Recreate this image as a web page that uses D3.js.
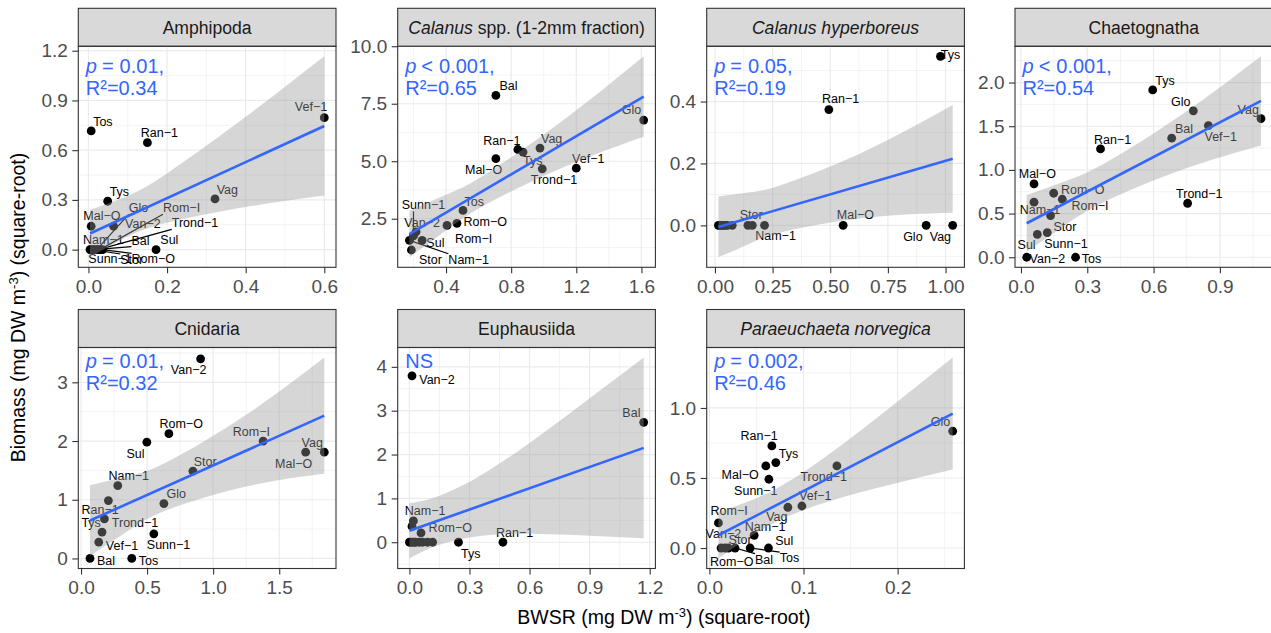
<!DOCTYPE html>
<html>
<head>
<meta charset="utf-8">
<script src="https://cdn.jsdelivr.net/npm/d3@7"></script>
<style>
  body { margin: 0; background: #fff; }
  svg { display: block; }
  text { white-space: pre; }
</style>
</head>
<body>
<svg id="chart" width="1271" height="633"></svg>
<script>
const FONT = '"Liberation Sans", Arial, Helvetica, sans-serif';

// sampling sites, same order in every series below
const sites = ['Bal', 'Glo', 'Mal-O', 'Nam-1', 'Ran-1', 'Rom-I', 'Rom-O', 'Stor',
               'Sul', 'Sunn-1', 'Trond-1', 'Tos', 'Tys', 'Van-2', 'Vag', 'Vef-1'];

// BWSR (x) and biomass (y), square-root scale, one pair per taxon
const amphipodaX = [0.016, 0.021, 0.007, 0.004, 0.15, 0.029, 0.036, 0.011, 0.172, 0.006, 0.025, 0.007, 0.049, 0.064, 0.322, 0.6];
const amphipodaY = [0, 0, 0.141, 0, 0.645, 0, 0, 0, 0, 0, 0, 0.716, 0.292, 0.141, 0.306, 0.796];
const calanusX   = [0.706, 1.614, 0.706, 0.175, 0.841, 0.406, 0.467, 0.187, 0.253, 0.20, 0.991, 0.504, 0.873, 0.216, 0.977, 1.20];
const calanusY   = [7.86, 6.79, 5.11, 1.56, 5.51, 2.21, 2.30, 1.14, 1.56, 1.75, 4.67, 2.86, 5.40, 1.93, 5.57, 4.70];
const hyperX     = [0.015, 0.916, 0.556, 0.215, 0.494, 0.025, 0.039, 0.143, 0.162, 0.054, 0.075, 0.02, 0.978, 0.03, 1.031, 0.045];
const hyperY     = [0, 0, 0, 0, 0.374, 0, 0, 0, 0, 0, 0, 0, 0.546, 0, 0, 0];
const chaetoX    = [0.682, 0.78, 0.059, 0.059, 0.36, 0.187, 0.148, 0.134, 0.074, 0.119, 0.754, 0.247, 0.596, 0.026, 1.086, 0.848];
const chaetoY    = [1.363, 1.676, 0.84, 0.63, 1.24, 0.664, 0.733, 0.477, 0.263, 0.282, 0.618, 0, 1.916, 0, 1.588, 1.508];
const cnidariaX  = [0.068, 0.627, 1.70, 0.278, 0.207, 1.378, 0.665, 0.847, 0.498, 0.551, 0.159, 0.384, 0.177, 0.905, 1.841, 0.134];
const cnidariaY  = [0, 0.935, 1.81, 1.241, 0.986, 2.0, 2.126, 1.486, 1.98, 0.42, 0.449, 0, 0.675, 3.40, 1.81, 0.279];
const euphX      = [1.17, 0.013, 0, 0.02, 0.467, 0.008, 0.058, 0.017, 0.033, 0.05, 0.091, 0.066, 0.245, 0.013, 0.116, 0.025];
const euphY      = [2.734, 0.36, 0, 0.485, 0, 0, 0.212, 0, 0, 0, 0, 0, 0, 3.795, 0, 0];
const paraX      = [0.0273, 0.2585, 0.06, 0.0476, 0.0664, 0.0096, 0.0124, 0.0202, 0.0628, 0.0632, 0.1355, 0.0433, 0.0706, 0.0167, 0.0834, 0.0983];
const paraY      = [0, 0.834, 0.586, 0.091, 0.729, 0.179, 0, 0, 0, 0.491, 0.586, 0, 0.61, 0, 0.291, 0.30];

// fitted line ends [x0, x1], [y0, y1]
const fitX = [[0.004, 0.6], [0.175, 1.614], [0.015, 1.031], [0.026, 1.086], [0.068, 1.841], [0, 1.17], [0.0096, 0.2585]];
const fitY = [[0.097, 0.746], [1.835, 7.81], [-0.005, 0.215], [0.389, 1.79], [0.646, 2.432], [0.26, 2.152], [0.091, 0.96]];

// confidence band read at five x positions
const bandX  = [[0.004, 0.0945, 0.2, 0.4, 0.6], [0.175, 0.41, 0.645, 1.13, 1.614], [0.015, 0.15, 0.297, 0.65, 1.031],
                [0.026, 0.2, 0.385, 0.735, 1.086], [0.068, 0.36, 0.651, 1.25, 1.841], [0, 0.15, 0.4, 0.75, 1.17],
                [0.0096, 0.0676, 0.13, 0.195, 0.2585]];
const bandLo = [[-0.046, 0.073, 0.162, 0.257, 0.326], [0.825, 2.04, 3.12, 4.76, 6.06], [-0.103, -0.059, -0.021, 0.0245, 0.041],
                [0.066, 0.367, 0.643, 1.007, 1.28], [0.044, 0.475, 0.824, 1.225, 1.442], [-0.37, -0.056, 0.166, 0.179, 0.092],
                [-0.0745, 0.1755, 0.339, 0.457, 0.56]];
const bandHi = [[0.240, 0.319, 0.460, 0.801, 1.166], [2.845, 3.58, 4.45, 6.84, 9.56], [0.093, 0.107, 0.133, 0.2395, 0.389],
                [0.712, 0.871, 1.085, 1.645, 2.30], [1.248, 1.405, 1.642, 2.447, 3.422], [0.89, 1.062, 1.648, 2.767, 4.212],
                [0.2565, 0.4115, 0.683, 1.019, 1.36]];

// strip titles as [text, italic] pieces
const titles = [
  [['Amphipoda', false]],
  [['Calanus', true], [' spp. (1-2mm fraction)', false]],
  [['Calanus hyperboreus', true]],
  [['Chaetognatha', false]],
  [['Cnidaria', false]],
  [['Euphausiida', false]],
  [['Paraeuchaeta norvegica', true]]
];
const statOp = ['=', '<', '=', '<', '=', null, '='];
const statP  = ['0.01,', '0.001,', '0.05,', '0.001,', '0.01,', null, '0.002,'];
const statR2 = ['0.34', '0.65', '0.19', '0.54', '0.32', null, '0.46'];

// tick labels
const xTicks = [[0, 0.2, 0.4, 0.6], [0.4, 0.8, 1.2, 1.6], [0, 0.25, 0.5, 0.75, 1.0], [0, 0.3, 0.6, 0.9],
                [0, 0.5, 1.0, 1.5], [0, 0.3, 0.6, 0.9, 1.2], [0, 0.1, 0.2]];
const yTicks = [[0, 0.3, 0.6, 0.9, 1.2], [2.5, 5.0, 7.5, 10.0], [0, 0.2, 0.4], [0, 0.5, 1.0, 1.5, 2.0],
                [0, 1, 2, 3], [0, 1, 2, 3, 4], [0, 0.5, 1.0]];
const xFmt = ['.1f', '.1f', '.2f', '.1f', '.1f', '.1f', '.1f'];
const yFmt = ['.1f', '.1f', '.1f', '.1f', 'd', 'd', '.1f'];

// label placement (px offset from the point, like ggrepel left them)
const nudges = [
  { 'Tos': [11.7, -9], 'Ran-1': [12, -10], 'Vef-1': [-13.3, -11], 'Tys': [11.7, -9.3], 'Vag': [12.3, -9.3],
    'Mal-O': [10.7, -10.3], 'Van-2': [29.3, -2.7], 'Glo': [41.7, -41.7], 'Rom-I': [81.7, -41.7],
    'Trond-1': [96.7, -26.7], 'Nam-1': [13.3, -10], 'Bal': [45.7, -9.3], 'Sul': [13.3, -10],
    'Sunn-1': [19.3, 9.3], 'Stor': [39, 10], 'Rom-O': [50.7, 9.3] },
  { 'Bal': [12.7, -10], 'Glo': [-12.3, -10], 'Ran-1': [-16, -9.3], 'Vag': [11.7, -9.7], 'Tys': [9.7, 9],
    'Mal-O': [-12.3, 10.7], 'Vef-1': [12, -9.7], 'Trond-1': [11.7, 11.3], 'Tos': [11.3, -9.3],
    'Rom-O': [28.3, -1.3], 'Rom-I': [26.7, 13], 'Sunn-1': [10, -31], 'Van-2': [6, -9], 'Sul': [13.3, 2.3],
    'Stor': [19, 9.3], 'Nam-1': [59.3, 19] },
  { 'Tys': [10, -1.7], 'Ran-1': [11.7, -10.7], 'Mal-O': [12.3, -11], 'Glo': [-13.3, 11.3], 'Vag': [-12.3, 11.3],
    'Stor': [3.3, -11], 'Nam-1': [11, 10.7] },
  { 'Tys': [12.3, -9.3], 'Glo': [-12.7, -9.3], 'Vag': [-12.7, -9.3], 'Vef-1': [12.3, 11], 'Bal': [12.3, -10],
    'Ran-1': [12, -9.7], 'Trond-1': [11.7, -10], 'Mal-O': [3.3, -10.7], 'Rom-O': [29, -4], 'Rom-I': [27.7, 6.3],
    'Nam-1': [6, 7.7], 'Stor': [14.3, 11], 'Sunn-1': [18.7, 10.7], 'Sul': [-10.7, 10.7], 'Van-2': [20.7, 1.7],
    'Tos': [16, 1.7] },
  { 'Van-2': [-12, 10.7], 'Rom-O': [12.3, -9.7], 'Sul': [-11.3, 11], 'Rom-I': [-11.7, -9.3], 'Vag': [-12, -9.7],
    'Mal-O': [-12, 11], 'Stor': [12.3, -9.7], 'Nam-1': [11, -9.7], 'Glo': [12.3, -9.7], 'Ran-1': [-8.3, 8.7],
    'Tys': [-13.3, 3.7], 'Trond-1': [33, -9], 'Vef-1': [23.3, 3.7], 'Sunn-1': [14.7, 11], 'Bal': [16, 2.3],
    'Tos': [16.7, 2.3] },
  { 'Van-2': [25, 4], 'Bal': [-12.3, -10], 'Nam-1': [11.7, -10], 'Rom-O': [29.3, -5], 'Tys': [12.3, 11.3],
    'Ran-1': [11.7, -9.7] },
  { 'Glo': [-12.3, -9.3], 'Trond-1': [-13.3, 11], 'Ran-1': [-12.7, -10.7], 'Tys': [12.7, -9], 'Mal-O': [-25.7, 8.3],
    'Sunn-1': [-13, 11.7], 'Vef-1': [13.3, -10], 'Vag': [-11, 9.7], 'Rom-I': [10.7, -12.7], 'Nam-1': [11, -9],
    'Sul': [15.7, -7], 'Bal': [29, 11.3], 'Tos': [39.3, 9.7], 'Rom-O': [10.7, 14], 'Stor': [11.7, -8.3],
    'Van-2': [-1.7, -14.3] }
];

const seriesX = [amphipodaX, calanusX, hyperX, chaetoX, cnidariaX, euphX, paraX];
const seriesY = [amphipodaY, calanusY, hyperY, chaetoY, cnidariaY, euphY, paraY];

// layout
const COL_X = [78.3, 397.7, 706.7, 1015];
const STRIP_TOP = [8.3, 309.5];
const STRIP_H = 38;
const PW = 257.7, PH = 221;
const STAT_Y = [27, 20];

const svg = d3.select('#chart').attr('font-family', FONT);

seriesX.forEach((xs, i) => drawPanel(i));
drawTitles();

function minorBreaks(ticks, dom) {
  const step = ticks[1] - ticks[0];
  const out = [];
  for (let k = -1; k < ticks.length; k++) {
    const v = ticks[0] + step * (k + 0.5);
    if (v > dom[0] && v < dom[1]) out.push(v);
  }
  return out;
}

function styleAxis(sel) {
  sel.attr('font-family', FONT).attr('font-size', 19);
  sel.select('.domain').remove();
  sel.selectAll('.tick line').attr('stroke', '#333').attr('stroke-width', 1.1);
  sel.selectAll('.tick text').attr('fill', '#4d4d4d');
}

function drawPanel(i) {
  const col = i % 4, row = Math.floor(i / 4);
  const pts = sites.map((s, k) => ({ site: s, x: seriesX[i][k], y: seriesY[i][k] }));
  const band = bandX[i].map((v, k) => ({ x: v, lo: bandLo[i][k], hi: bandHi[i][k] }));

  const g = svg.append('g')
    .attr('transform', `translate(${COL_X[col]},${STRIP_TOP[row] + STRIP_H})`);

  // ggplot-style 5% expansion of data + ribbon
  const xe = d3.extent(seriesX[i]);
  const ye = d3.extent(seriesY[i].concat(bandLo[i], bandHi[i]));
  const xp = (xe[1] - xe[0]) * 0.05, yp = (ye[1] - ye[0]) * 0.05;
  const x = d3.scaleLinear().domain([xe[0] - xp, xe[1] + xp]).range([0, PW]);
  const y = d3.scaleLinear().domain([ye[0] - yp, ye[1] + yp]).range([PH, 0]);

  // strip
  const strip = g.append('g').attr('transform', `translate(0,${-STRIP_H})`);
  strip.append('rect')
    .attr('width', PW).attr('height', STRIP_H)
    .attr('fill', '#d9d9d9').attr('stroke', '#333').attr('stroke-width', 1.1);
  const st = strip.append('text')
    .attr('x', PW / 2).attr('y', STRIP_H / 2).attr('dy', '0.36em')
    .attr('text-anchor', 'middle').attr('font-size', 17.6).attr('fill', '#1a1a1a');
  titles[i].forEach(([t, it]) => st.append('tspan').attr('font-style', it ? 'italic' : null).text(t));

  // grid
  const xMinor = minorBreaks(xTicks[i], x.domain());
  const yMinor = minorBreaks(yTicks[i], y.domain());
  const grid = g.append('g').attr('stroke', '#ebebeb');
  grid.selectAll('.xm').data(xMinor).join('line')
    .attr('x1', d => x(d)).attr('x2', d => x(d)).attr('y1', 0).attr('y2', PH).attr('stroke-width', 0.6);
  grid.selectAll('.ym').data(yMinor).join('line')
    .attr('y1', d => y(d)).attr('y2', d => y(d)).attr('x1', 0).attr('x2', PW).attr('stroke-width', 0.6);
  grid.selectAll('.xM').data(xTicks[i]).join('line')
    .attr('x1', d => x(d)).attr('x2', d => x(d)).attr('y1', 0).attr('y2', PH).attr('stroke-width', 1.2);
  grid.selectAll('.yM').data(yTicks[i]).join('line')
    .attr('y1', d => y(d)).attr('y2', d => y(d)).attr('x1', 0).attr('x2', PW).attr('stroke-width', 1.2);

  // points
  g.append('g').selectAll('circle').data(pts).join('circle')
    .attr('cx', d => x(d.x)).attr('cy', d => y(d.y)).attr('r', 4.4).attr('fill', '#000');

  // repelled labels + segments
  const segs = g.append('g').attr('stroke', '#000').attr('stroke-width', 1.2);
  const labs = g.append('g').attr('font-size', 12.5).attr('fill', '#000').attr('text-anchor', 'middle');
  pts.forEach(d => {
    const n = nudges[i][d.site];
    if (!n) return;
    const px = x(d.x), py = y(d.y);
    const t = labs.append('text')
      .attr('x', px + n[0]).attr('y', py + n[1]).attr('dy', '0.35em')
      .text(d.site.replace('-', '\u2212'));
    const b = t.node().getBBox();
    const ex = Math.max(b.x, Math.min(px, b.x + b.width));
    const ey = Math.max(b.y + 1, Math.min(py, b.y + b.height - 1));
    if (Math.hypot(ex - px, ey - py) > 15) {
      segs.append('line').attr('x1', px).attr('y1', py).attr('x2', ex).attr('y2', ey);
    }
  });

  // smoother: ribbon then line
  g.append('path').datum(band)
    .attr('d', d3.area().x(d => x(d.x)).y0(d => y(d.lo)).y1(d => y(d.hi)).curve(d3.curveNatural))
    .attr('fill', '#999999').attr('fill-opacity', 0.4);
  g.append('path').datum(fitX[i].map((v, k) => [v, fitY[i][k]]))
    .attr('d', d3.line().x(d => x(d[0])).y(d => y(d[1])))
    .attr('stroke', '#3366FF').attr('stroke-width', 2.6).attr('fill', 'none');

  // stats
  const sg = g.append('g').attr('fill', '#3366FF').attr('font-size', 20);
  if (statP[i]) {
    const l1 = sg.append('text').attr('x', 7.5).attr('y', STAT_Y[row]);
    l1.append('tspan').attr('font-style', 'italic').text('p');
    l1.append('tspan').attr('dx', 5).text(statOp[i]);
    l1.append('tspan').attr('dx', 6).text(statP[i]);
    sg.append('text').attr('x', 7.5).attr('y', STAT_Y[row] + 22).text('R\u00b2=' + statR2[i]);
  } else {
    sg.append('text').attr('x', 7.5).attr('y', STAT_Y[row]).text('NS');
  }

  // border
  g.append('rect').attr('width', PW).attr('height', PH)
    .attr('fill', 'none').attr('stroke', '#333').attr('stroke-width', 1.1);

  // axes
  const ax = g.append('g').attr('transform', `translate(0,${PH})`)
    .call(d3.axisBottom(x).tickValues(xTicks[i]).tickFormat(d3.format(xFmt[i])).tickSize(6).tickPadding(6.5));
  styleAxis(ax);
  const ay = g.append('g')
    .call(d3.axisLeft(y).tickValues(yTicks[i]).tickFormat(d3.format(yFmt[i])).tickSize(6).tickPadding(4.5));
  styleAxis(ay);
}

function drawTitles() {
  const xt = svg.append('text')
    .attr('x', 664).attr('y', 624).attr('text-anchor', 'middle')
    .attr('font-size', 19.5).attr('fill', '#000');
  xt.append('tspan').text('BWSR (mg DW m');
  xt.append('tspan').attr('font-size', 13).attr('dy', -7).text('-3');
  xt.append('tspan').attr('dy', 7).text(') (square-root)');

  const yt = svg.append('text')
    .attr('transform', 'translate(25,307.5) rotate(-90)').attr('text-anchor', 'middle')
    .attr('font-size', 19.5).attr('fill', '#000');
  yt.append('tspan').text('Biomass (mg DW m');
  yt.append('tspan').attr('font-size', 13).attr('dy', -7).text('-3');
  yt.append('tspan').attr('dy', 7).text(') (square-root)');
}
</script>
</body>
</html>
